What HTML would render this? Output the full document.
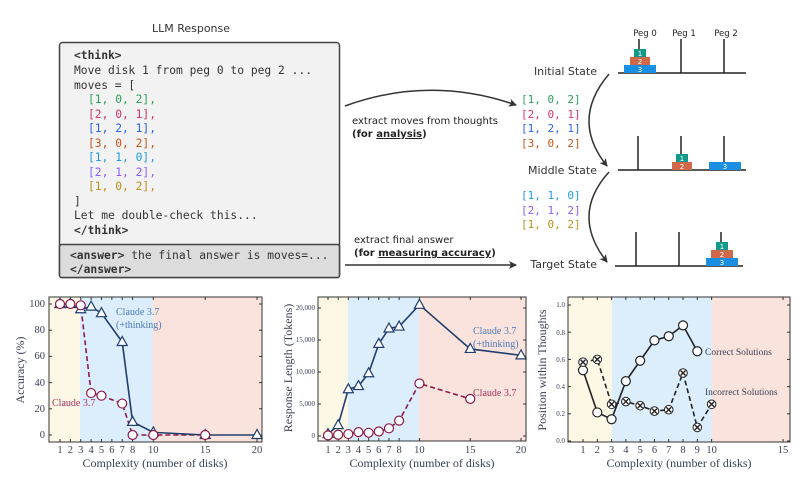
<!DOCTYPE html>
<html><head><meta charset="utf-8"><style>
html,body{margin:0;padding:0;background:#fff;}
svg{display:block;}
.mono{font-family:"DejaVu Sans Mono","Liberation Mono",monospace;font-size:11.3px;}
.sans{font-family:"DejaVu Sans","Liberation Sans",sans-serif;}
.serif{font-family:"Liberation Serif","DejaVu Serif",serif;fill:#3a3f55;}
</style></head><body>
<svg id="s" width="812" height="482" viewBox="0 0 812 482" xmlns="http://www.w3.org/2000/svg">
<defs><marker id="ah" markerWidth="8" markerHeight="8" refX="7" refY="4" orient="auto" markerUnits="userSpaceOnUse"><path d="M0,0 L8,4 L0,8 L2,4 z" fill="#333"/></marker></defs>
<text x="191" y="32" class="sans" font-size="11" text-anchor="middle" fill="#333">LLM Response</text>
<rect x="59.5" y="42.5" width="280" height="235" rx="3" fill="#f3f2f2" stroke="#444" stroke-width="1.5"/>
<rect x="59.5" y="244.5" width="280" height="33" rx="2" fill="#dcdcdc" stroke="#444" stroke-width="1.5"/>
<g class="mono" fill="#333">
<text x="74" y="59" font-weight="bold">&lt;think&gt;</text>
<text x="74" y="74">Move disk 1 from peg 0 to peg 2 ...</text>
<text x="74" y="89">moves = [</text>
<text x="88" y="103" fill="#2ca05a">[1, 0, 2],</text>
<text x="88" y="118" fill="#d6336c">[2, 0, 1],</text>
<text x="88" y="132" fill="#2563eb">[1, 2, 1],</text>
<text x="88" y="147" fill="#c2571a">[3, 0, 2],</text>
<text x="88" y="161" fill="#1e9be0">[1, 1, 0],</text>
<text x="88" y="176" fill="#8b5cf6">[2, 1, 2],</text>
<text x="88" y="190" fill="#b8901e">[1, 0, 2],</text>
<text x="74" y="205">]</text>
<text x="74" y="219">Let me double-check this...</text>
<text x="74" y="234" font-weight="bold">&lt;/think&gt;</text>
<text x="70" y="259"><tspan font-weight="bold">&lt;answer&gt;</tspan> the final answer is moves=...</text>
<text x="70" y="273" font-weight="bold">&lt;/answer&gt;</text>
</g>
<path d="M345,106 Q430,75 516,105" fill="none" stroke="#333" stroke-width="1.5" marker-end="url(#ah)"/>
<text x="352" y="124" class="sans" font-size="10" fill="#222">extract moves  from thoughts</text>
<text x="352" y="137" class="sans" font-size="10" fill="#222" font-weight="bold">(for <tspan text-decoration="underline">analysis</tspan>)</text>
<text x="354" y="243" class="sans" font-size="10" fill="#222">extract final answer</text>
<text x="354" y="256" class="sans" font-size="10" fill="#222" font-weight="bold">(for <tspan text-decoration="underline">measuring accuracy</tspan>)</text>
<line x1="345" y1="265" x2="516" y2="265" stroke="#333" stroke-width="1.5" marker-end="url(#ah)"/>
<g class="sans" font-size="8.5" fill="#222" text-anchor="middle">
<text x="645" y="36">Peg 0</text><text x="684" y="36">Peg 1</text><text x="726" y="36">Peg 2</text></g>
<g class="sans" font-size="11" fill="#333" text-anchor="end">
<text x="597" y="75">Initial State</text><text x="597" y="174">Middle State</text><text x="597" y="268">Target State</text></g>
<g stroke="#222" stroke-width="1.5">
<line x1="618" y1="73" x2="746" y2="73"/><line x1="639" y1="39" x2="639" y2="73"/><line x1="681" y1="39" x2="681" y2="73"/><line x1="724" y1="39" x2="724" y2="73"/>
<line x1="618" y1="170" x2="746" y2="170"/><line x1="638" y1="136" x2="638" y2="170"/><line x1="681" y1="136" x2="681" y2="170"/><line x1="724" y1="136" x2="724" y2="170"/>
<line x1="615" y1="266" x2="743" y2="266"/><line x1="636" y1="232" x2="636" y2="266"/><line x1="679" y1="232" x2="679" y2="266"/><line x1="721" y1="232" x2="721" y2="266"/>
</g>
<g class="sans" font-size="7" fill="#fff" text-anchor="middle">
<rect x="624" y="65" width="32" height="8" fill="#1a8ee0"/><text x="640" y="72">3</text>
<rect x="630" y="57" width="20" height="8" fill="#d0694a"/><text x="640" y="64">2</text>
<rect x="634" y="49" width="12" height="8" fill="#14998a"/><text x="640" y="56">1</text>
<rect x="672" y="162" width="20" height="8" fill="#d0694a"/><text x="682" y="169">2</text>
<rect x="676" y="154" width="12" height="8" fill="#14998a"/><text x="682" y="161">1</text>
<rect x="709" y="162" width="32" height="8" fill="#1a8ee0"/><text x="725" y="169">3</text>
<rect x="706" y="258" width="32" height="8" fill="#1a8ee0"/><text x="722" y="265">3</text>
<rect x="711" y="250" width="22" height="8" fill="#d0694a"/><text x="722" y="257">2</text>
<rect x="716" y="242" width="12" height="8" fill="#14998a"/><text x="722" y="249">1</text>
</g>
<path d="M609,74 Q570,120 607,166" fill="none" stroke="#333" stroke-width="1.5" marker-end="url(#ah)"/>
<path d="M609,172 Q570,215 607,262" fill="none" stroke="#333" stroke-width="1.5" marker-end="url(#ah)"/>
<g class="mono" style="font-size:11px">
<text x="521" y="103" fill="#2ca05a">[1, 0, 2]</text>
<text x="521" y="118" fill="#d6336c">[2, 0, 1]</text>
<text x="521" y="132" fill="#2563eb">[1, 2, 1]</text>
<text x="521" y="147" fill="#c2571a">[3, 0, 2]</text>
<text x="521" y="199" fill="#1e9be0">[1, 1, 0]</text>
<text x="521" y="214" fill="#8b5cf6">[2, 1, 2]</text>
<text x="521" y="228" fill="#b8901e">[1, 0, 2]</text>
</g>
<rect x="49" y="297" width="31" height="145" fill="#fdf8e6"/><rect x="80" y="297" width="73" height="145" fill="#dcedfb"/><rect x="153" y="297" width="109" height="145" fill="#fae3dc"/>
<rect x="318" y="297" width="30" height="144" fill="#fdf8e6"/><rect x="348" y="297" width="71" height="144" fill="#dcedfb"/><rect x="419" y="297" width="107" height="144" fill="#fae3dc"/>
<rect x="568" y="297" width="44" height="145" fill="#fdf8e6"/><rect x="612" y="297" width="100" height="145" fill="#dcedfb"/><rect x="712" y="297" width="78" height="145" fill="#fae3dc"/>
<g id="plots"></g>
<rect x="49" y="297" width="213" height="145" fill="none" stroke="#333" stroke-width="1"/>
<rect x="318" y="297" width="208" height="144" fill="none" stroke="#333" stroke-width="1"/>
<rect x="568" y="297" width="222" height="145" fill="none" stroke="#333" stroke-width="1"/>
<g class="serif" font-size="10.5" text-anchor="end">
<text x="45" y="307">100</text><text x="45" y="333">80</text><text x="45" y="359">60</text><text x="45" y="386">40</text><text x="45" y="412">20</text><text x="45" y="438">0</text></g>
<g class="serif" font-size="10.5" text-anchor="middle">
<text x="60" y="453">1</text><text x="70.4" y="453">2</text><text x="80.7" y="453">3</text><text x="91.1" y="453">4</text><text x="101.5" y="453">5</text><text x="111.9" y="453">6</text><text x="122.2" y="453">7</text><text x="132.6" y="453">8</text><text x="153.3" y="453">10</text><text x="205.2" y="453">15</text><text x="257" y="453">20</text>
<text x="155" y="467" font-size="12">Complexity (number of disks)</text>
<text transform="translate(24,370) rotate(-90)" font-size="12">Accuracy (%)</text></g>
<text x="116" y="315" class="serif" font-size="10" style="fill:#4a7bb5">Claude 3.7</text>
<text x="116" y="328" class="serif" font-size="10" style="fill:#4a7bb5">(+thinking)</text>
<text x="52" y="406" class="serif" font-size="10" style="fill:#a0305e">Claude 3.7</text>
<g class="serif" font-size="7" text-anchor="end">
<text x="315" y="310">20,000</text><text x="315" y="342">15,000</text><text x="315" y="374">10,000</text><text x="315" y="406">5,000</text><text x="315" y="438">0</text></g>
<g class="serif" font-size="10.5" text-anchor="middle">
<text x="328" y="453">1</text><text x="338.2" y="453">2</text><text x="348.3" y="453">3</text><text x="358.5" y="453">4</text><text x="368.6" y="453">5</text><text x="378.8" y="453">6</text><text x="389" y="453">7</text><text x="399.1" y="453">8</text><text x="419.4" y="453">10</text><text x="470.2" y="453">15</text><text x="521" y="453">20</text>
<text x="422" y="467" font-size="12">Complexity (number of disks)</text>
<text transform="translate(292,368) rotate(-90)" font-size="12">Response Length (Tokens)</text></g>
<text x="473" y="334" class="serif" font-size="10" style="fill:#4a7bb5">Claude 3.7</text>
<text x="473" y="347" class="serif" font-size="10" style="fill:#4a7bb5">(+thinking)</text>
<text x="473" y="396" class="serif" font-size="10" style="fill:#a0305e">Claude 3.7</text>
<g class="serif" font-size="7" text-anchor="end">
<text x="565" y="307">1.0</text><text x="565" y="335">0.8</text><text x="565" y="362">0.6</text><text x="565" y="389">0.4</text><text x="565" y="416">0.2</text><text x="565" y="443">0.0</text></g>
<g class="serif" font-size="10.5" text-anchor="middle">
<text x="583" y="453">1</text><text x="597.3" y="453">2</text><text x="611.6" y="453">3</text><text x="625.9" y="453">4</text><text x="640.2" y="453">5</text><text x="654.5" y="453">6</text><text x="668.7" y="453">7</text><text x="683" y="453">8</text><text x="697.3" y="453">9</text><text x="711.6" y="453">10</text><text x="783" y="453">15</text>
<text x="679" y="467" font-size="12">Complexity (number of disks)</text>
<text transform="translate(546,370) rotate(-90)" font-size="12">Position within Thoughts</text></g>
<text x="705" y="355" class="serif" font-size="9.5">Correct Solutions</text>
<text x="705" y="395" class="serif" font-size="9.5">Incorrect Solutions</text>
</svg>
<script>
(function(){
var NS="http://www.w3.org/2000/svg",g=document.getElementById("plots");
function el(t,a){var e=document.createElementNS(NS,t);for(var k in a)e.setAttribute(k,a[k]);g.appendChild(e);return e;}
function line(pts,col,dash,w){el("polyline",{points:pts.map(function(p){return p.join(",")}).join(" "),fill:"none",stroke:col,"stroke-width":w||1.6,"stroke-dasharray":dash||"none"});}
function circ(pts,col){pts.forEach(function(p){el("circle",{cx:p[0],cy:p[1],r:4.5,fill:"#fff",stroke:col,"stroke-width":1.2});});}
function tri(pts,col){pts.forEach(function(p){var x=p[0],y=p[1];el("polygon",{points:(x)+","+(y-5.5)+" "+(x-5)+","+(y+3.5)+" "+(x+5)+","+(y+3.5),fill:"#fff",stroke:col,"stroke-width":1.2});});}
function cross(pts,col){pts.forEach(function(p){var x=p[0],y=p[1];el("circle",{cx:x,cy:y,r:4.3,fill:"#fff",stroke:col,"stroke-width":1});el("path",{d:"M"+(x-2.5)+","+(y-2.5)+"L"+(x+2.5)+","+(y+2.5)+"M"+(x+2.5)+","+(y-2.5)+"L"+(x-2.5)+","+(y+2.5),stroke:col,"stroke-width":1.4});});}
function ticks(x0,x1,y0,y1,xs,ys){xs.forEach(function(x){el("line",{x1:x,x2:x,y1:y1,y2:y1-3,stroke:"#333"});el("line",{x1:x,x2:x,y1:y0,y2:y0+3,stroke:"#333"});});ys.forEach(function(y){el("line",{x1:x0,x2:x0+3,y1:y,y2:y,stroke:"#333"});el("line",{x1:x1,x2:x1-3,y1:y,y2:y,stroke:"#333"});});}
var N="#1f3e6e",M="#8b1a4a";
function X1(v){return 60+(v-1)*10.37}function Y1(a){return 435-a*1.31}
ticks(49,262,297,442,[1,2,3,4,5,6,7,8,10,15,20].map(X1),[0,20,40,60,80,100].map(Y1));
var t1=[[1,100],[2,100],[3,96],[4,98],[5,93],[7,71],[8,10],[10,2],[15,0],[20,0]].map(function(p){return[X1(p[0]),Y1(p[1])]});
var c1=[[1,100],[2,100],[3,99],[4,32],[5,30],[7,24],[8,0],[10,0],[15,0]].map(function(p){return[X1(p[0]),Y1(p[1])]});
line(c1,M,"5,3");line(t1,N);tri(t1,N);circ(c1,M);
function X2(v){return 328+(v-1)*10.16}function Y2(a){return 436-a*0.0064}
ticks(318,526,297,441,[1,2,3,4,5,6,7,8,10,15,20].map(X2),[0,5000,10000,15000,20000].map(Y2));
var t2=[[1,300],[2,1700],[3,7300],[4,7800],[5,9800],[6,14400],[7,16800],[8,17100],[10,20500],[15,13600],[20,12600]].map(function(p){return[X2(p[0]),Y2(p[1])]});
var c2=[[1,100],[2,200],[3,300],[4,600],[5,500],[6,700],[7,1200],[8,2400],[10,8200],[15,5800]].map(function(p){return[X2(p[0]),Y2(p[1])]});
line(c2,M,"5,3");line(t2,N);tri(t2,N);circ(c2,M);
function X3(v){return 583+(v-1)*14.29}function Y3(a){return 441-a*136}
ticks(568,790,297,442,[1,2,3,4,5,6,7,8,9,10,15].map(X3),[0,.2,.4,.6,.8,1].map(Y3));
var a3=[[1,.52],[2,.21],[3,.16],[4,.44],[5,.59],[6,.74],[7,.77],[8,.85],[9,.66]].map(function(p){return[X3(p[0]),Y3(p[1])]});
var b3=[[1,.58],[2,.60],[3,.27],[4,.29],[5,.26],[6,.22],[7,.23],[8,.50],[9,.10],[10,.27]].map(function(p){return[X3(p[0]),Y3(p[1])]});
line(b3,"#222","5,3");line(a3,"#222");circ(a3,"#222");cross(b3,"#222");
})();
</script>
</body></html>
